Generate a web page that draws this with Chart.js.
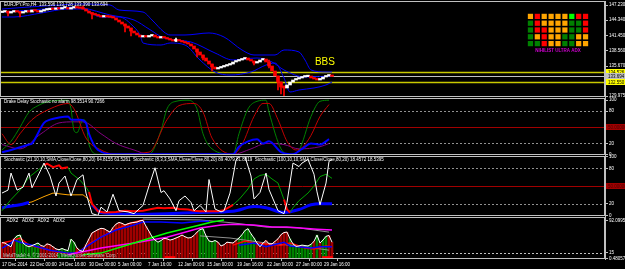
<!DOCTYPE html>
<html>
<head>
<meta charset="utf-8">
<script src="https://cdn.jsdelivr.net/npm/chart.js@4.4.1/dist/chart.umd.min.js"></script>
<style>
  html, body { margin: 0; padding: 0; background: #000; }
  #wrap { position: relative; width: 625px; height: 269px; overflow: hidden; }
  #wrap canvas { position: absolute; left: 0; top: 0; }
</style>
</head>
<body>
<div id="wrap">
  <canvas id="price" width="625" height="269"></canvas>
  <canvas id="drake" width="625" height="269"></canvas>
  <canvas id="stoch" width="625" height="269"></canvas>
  <canvas id="adx" width="625" height="269"></canvas>
  <canvas id="matrix" width="625" height="269"></canvas>
</div>
<script>
/* ---- price data: EURJPY H4, one close per bar ---- */
const firstOpen = 145.80
const closes = [
  145.90, 146.09, 145.71, 145.90, 146.09, 145.90, 145.71, 145.90, 146.09, 145.90,
  146.28, 146.09, 145.90, 146.09, 146.28, 146.35, 146.47, 146.40, 146.66, 146.47,
  146.66, 146.72, 146.47, 146.66, 146.85, 146.66, 146.60, 146.47, 146.09, 145.71,
  145.53, 145.34, 145.15, 144.96, 145.15, 144.96, 144.90, 144.77, 144.39, 144.01,
  143.63, 143.25, 142.87, 142.30, 141.93, 141.55, 141.17, 141.36, 141.17, 141.36,
  141.55, 141.17, 140.98, 141.17, 140.98, 140.79, 140.60, 140.41, 140.60, 140.41,
  140.22, 140.03, 139.84, 139.46, 138.90, 138.33, 137.76, 137.19, 136.62, 136.05,
  135.49, 135.11, 135.30, 135.49, 135.67, 135.86, 136.05, 136.43, 136.62, 136.81,
  137.00, 137.19, 136.81, 136.62, 136.24, 136.43, 136.81, 137.00, 136.43, 135.67,
  134.73, 133.78, 132.64, 131.70, 131.51, 132.08, 132.64, 133.02, 133.21, 133.40,
  133.59, 133.65, 133.78, 133.40, 133.21, 133.02, 133.21, 133.59, 133.78, 133.97,
  133.694
]
// [bar, low, high] for the candles with visible shadows
const wicks = [
  [2, 145.15, 145.95], [6, 144.96, 145.95], [27, 146.47, 147.04], [30, 144.58, 145.71],
  [41, 142.11, 143.63], [43, 141.36, 142.87], [58, 140.30, 140.98], [65, 137.38, 138.90],
  [67, 136.81, 137.76], [70, 134.73, 136.05], [84, 135.86, 136.62], [89, 135.30, 136.81],
  [92, 131.13, 133.78], [93, 130.37, 132.64], [94, 129.99, 131.90]
]
// bollinger bands [bar, price]
const bbUpper = [[0,146.47],[9,146.85],[19,147.23],[25,147.42],[36,147.23],[39,146.28],[47,145.90],[50,144.39],[54,142.11],[56,141.55],[61,141.55],[69,141.93],[74,141.17],[80,138.71],[84,137.76],[91,137.76],[94,138.71],[99,138.33],[101,136.81],[103,134.92],[108,134.54],[110,134.54]]
const bbMiddle = [[0,145.90],[10,146.28],[22,146.85],[27,146.66],[36,145.34],[44,144.39],[49,142.68],[54,140.98],[63,140.22],[71,138.14],[77,136.81],[85,137.19],[90,136.43],[94,134.92],[101,133.59],[110,133.78]]
const bbLower = [[0,144.96],[4,144.96],[13,145.71],[22,146.47],[27,146.47],[33,144.96],[39,144.96],[44,143.06],[46,141.55],[47,140.03],[53,139.65],[56,140.03],[61,139.65],[66,136.81],[71,134.54],[76,133.97],[83,134.54],[88,135.86],[91,136.24],[94,133.40],[96,130.75],[99,131.13],[104,131.51],[108,132.08],[110,132.64]]
const priceTicks = [147.230, 144.340, 141.450, 138.560, 135.670, 129.975]
const levelHigh = 134.526
const levelLast = 133.694
const levelLow = 132.550

/* ---- Drake Delay Stochastic ---- */
const drakeGreen = [[0,8],[3,24],[6,50],[9,78],[12,90],[16,98],[22,100],[23,84],[24,44],[25,40],[27,64],[28,60],[29,18],[32,0],[49,0],[53,44],[55,84],[58,98],[62,100],[65,84],[67,38],[70,10],[77,0],[79,38],[82,84],[85,98],[88,100],[89,78],[93,10],[96,0],[99,8],[103,70],[106,98],[109,100]]
const drakeRed = [[0,38],[3,18],[6,38],[10,64],[16,84],[22,94],[24,84],[28,30],[33,8],[38,0],[49,4],[55,64],[59,90],[64,94],[67,78],[70,30],[77,0],[80,18],[84,70],[87,94],[89,94],[92,64],[95,24],[98,8],[100,12],[103,35],[106,70],[109,92]]
const drakeBlue = [[0,4],[3,8],[9,18],[10,20],[14,58],[16,64],[19,68],[22,70],[23,64],[26,64],[28,58],[29,38],[32,8],[38,0],[77,0],[79,14],[82,24],[85,28],[87,20],[89,24],[93,4],[97,0],[100,10],[103,20],[106,18],[109,28]]
const drakePurple = [[0,18],[6,10],[13,38],[19,58],[24,60],[27,60],[33,38],[38,20],[44,8],[49,0],[77,0],[83,10],[88,20],[94,18],[99,10],[106,14],[109,20]]

/* ---- Stochastics ---- */
const stochWhite = [[0,38],[2,43],[3,72],[5,43],[7,48],[9,72],[10,47],[13,78],[14,89],[16,67],[18,33],[19,55],[21,67],[23,33],[25,61],[27,69],[28,38],[30,3],[32,0],[33,14],[35,6],[37,36],[39,8],[42,6],[44,3],[47,17],[49,50],[51,81],[53,39],[54,42],[56,28],[58,8],[59,25],[61,33],[63,22],[64,8],[66,17],[68,6],[69,61],[71,11],[73,6],[74,8],[76,38],[78,94],[79,100],[81,100],[83,67],[84,28],[86,39],[88,72],[89,44],[92,8],[94,3],[95,22],[97,89],[99,83],[100,89],[102,95],[104,70],[105,40],[106,18],[108,55],[109,92],[110,95]]
const stochGreen = [[0,8],[3,27],[6,43],[9,65],[12,77],[14,85],[15,null],[22,82],[23,72],[26,60],[28,48],[29,40],[30,null],[77,18],[79,27],[82,45],[84,62],[86,68],[88,70],[90,62],[92,55],[94,27],[95,null],[96,5],[97,13],[99,25],[102,38],[104,50],[106,66],[108,70],[110,63]]
const stochRed = [[14,85],[15,88],[17,82],[19,85],[20,80],[22,82],[25,null],[29,40],[30,20],[32,7],[34,5],[38,6],[41,8],[44,7],[47,8],[49,10],[52,13],[54,12],[57,13],[59,11],[62,10],[64,8],[66,7],[69,7],[72,7],[74,9],[77,18],[85,null],[94,27],[95,10],[96,5]]
const stochBlue = [[0,13],[2,15],[6,18],[9,22],[20,null],[30,18],[33,5],[44,2],[55,3],[66,5],[77,7],[84,15],[88,13],[94,5],[99,10],[103,18],[106,20],[110,20]]
const stochOrange = [[9,22],[10,23],[14,32],[17,38],[22,35],[27,35],[29,27],[30,18]]

/* ---- ADX ---- */
const adxHist = [
  39,38,33,29,48,55,57,38,32,29, 32,35,38,32,30,36,34,29,24,22,
  25,22,20,47,40,26,20,18,34,48, 62,66,70,73,72,68,64,75,83,87,
  85,81,84,86,87,88,91,92,78,66, 53,45,40,44,49,48,45,47,50,53,
  57,53,50,51,56,64,70,72,55,43, 41,44,40,31,34,40,39,38,44,50,
  58,68,72,60,50,38,29,38,44,36, 36,42,48,58,63,64,48,36,30,31,
  33,32,31,35,42,57,38,45,54,56, 40
]
const adxBull = [
  0,0,0,0,0,1,1,1,1,1, 1,1,1,0,0,0,0,0,0,1,
  1,1,1,1,1,0,0,0,0,0, 0,0,0,0,0,0,0,0,0,0,
  0,0,0,0,0,0,0,0,0,0, 1,1,1,1,0,0,0,0,0,0,
  0,0,0,0,0,0,1,1,1,1, 1,1,0,0,0,0,0,0,0,1,
  1,1,1,1,1,0,0,0,0,0, 0,0,0,0,0,0,1,1,1,1,
  1,1,1,1,0,1,0,1,1,0, 0
]
const adxBlue = [[0,26],[3,38],[4,45],[6,40],[11,31],[16,21],[22,14],[25,14],[28,29],[33,52],[38,69],[44,81],[47,88],[53,88],[60,86],[66,90],[69,90],[74,null],[79,33],[84,38],[88,29],[94,40],[96,31],[103,26],[106,29],[110,29]]
const adxRed = [[0,38],[3,43],[6,50],[9,33],[13,26],[18,17],[23,12],[26,19],[29,36],[33,52],[38,71],[43,86],[47,93],[60,null],[77,33],[81,43],[84,38],[93,33],[96,38],[101,26],[104,24],[108,31],[110,29]]
const adxLime = [[27,10],[33,14],[44,38],[55,62],[66,81],[70,88],[74,93]]
const adxMagenta = [[22,10],[33,26],[44,38],[55,52],[66,74],[73,81],[77,83],[84,81],[90,76],[95,76],[105,71],[110,69]]
const adxGray1 = [[47,95],[66,93],[77,86],[88,76],[99,74],[109,64]]
const adxGray2 = [[66,55],[76,50],[88,38],[99,31],[109,21]]
const adxAlerts = [56, 108.5]

const timeTicks = [0, 9.3, 19, 29, 38.7, 48.7, 58.7, 68.3, 78.3, 88.3, 98, 107.3]
const timeLabels = ['17 Dec 2014', '22 Dec 00:00', '24 Dec 16:00', '30 Dec 00:00', '5 Jan 00:00', '7 Jan 16:00',
  '12 Jan 00:00', '15 Jan 00:00', '19 Jan 16:00', '22 Jan 00:00', '27 Jan 00:00', '29 Jan 16:00']

/* ---- Nihilist Ultra ADX matrix ---- */
const gridTf = ['M', 'W', 'D', 'H4', 'H', '30', '15', '5', '1']
const gridPeriods = ['7', '21', '42', '86', '144']
const gridStates = [
  ['o','r','o','o','o','o','L','r','r'],
  ['g','r','o','o','o','o','g','g','r'],
  ['g','r','r','o','o','o','g','g','r'],
  ['g','o','r','o','o','g','g','o','o'],
  ['g','g','r','o','o','g','g','o','o']
]

/* ---------------- drawing ---------------- */
const FONT = "'Liberation Sans', Arial, sans-serif"
Chart.defaults.font.family = FONT
Chart.defaults.font.size = 4.5
Chart.defaults.color = '#ffffff'
Chart.defaults.animation = false

const xMin = -0.67, xMax = 201

// horizontal levels, panel frame, titles and value tags
const panelDecor = {
  id: 'panelDecor',
  beforeDatasetsDraw(chart, args, opts) {
    const { ctx, chartArea: a, scales } = chart
    ctx.save()
    for (const l of opts.levels || []) {
      const py = Math.round(scales.y.getPixelForValue(l.value)) + 0.5
      ctx.strokeStyle = l.color
      ctx.lineWidth = l.width || 1
      ctx.setLineDash(l.dash || [])
      ctx.beginPath(); ctx.moveTo(a.left, py); ctx.lineTo(a.right, py); ctx.stroke()
    }
    ctx.restore()
  },
  afterDraw(chart, args, opts) {
    const { ctx, chartArea: a, scales } = chart
    ctx.save()
    if (opts.frame) {
      ctx.strokeStyle = '#c0c0c0'
      ctx.lineWidth = 1
      ctx.strokeRect(a.left + 0.5, a.top + 0.5, a.right - a.left - 1, a.bottom - a.top - 1)
    }
    ctx.font = '4.5px ' + FONT
    if (opts.title) {
      ctx.fillStyle = '#ffffff'; ctx.textBaseline = 'top'
      ctx.fillText(opts.title, a.left + 4, a.top + 2)
    }
    if (opts.footer) {
      ctx.fillStyle = '#c0c0c0'; ctx.textBaseline = 'bottom'
      ctx.fillText(opts.footer, a.left + 3, a.bottom - 1)
    }
    for (const t of opts.tags || []) {
      const py = Math.round(scales.y.getPixelForValue(t.value))
      ctx.fillStyle = t.bg
      ctx.fillRect(a.right + 1, py - 3, 20, 6)
      ctx.fillStyle = t.fg; ctx.textBaseline = 'middle'
      ctx.fillText(t.text, a.right + 3, py + 0.5)
    }
    for (const n of opts.notes || []) {
      ctx.font = n.size + 'px ' + FONT
      ctx.fillStyle = n.color; ctx.textBaseline = 'alphabetic'
      ctx.fillText(n.text, scales.x.getPixelForValue(n.x), scales.y.getPixelForValue(n.y))
    }
    if (opts.caption) {
      ctx.font = 'bold 4.5px ' + FONT
      ctx.fillStyle = opts.caption.color; ctx.textBaseline = 'top'; ctx.textAlign = 'center'
      ctx.fillText(opts.caption.text, (a.left + a.right) / 2, a.bottom + 1.5)
    }
    ctx.restore()
  }
}
Chart.register(panelDecor)

const toPoints = arr => arr.map(p => ({ x: p[0], y: p[1] }))

function line(data, color, width, order, smooth) {
  return {
    type: 'line', data: toPoints(data), borderColor: color, borderWidth: width,
    pointRadius: 0, fill: false, spanGaps: false, order: order,
    tension: smooth ? 0.4 : 0, cubicInterpolationMode: smooth ? 'monotone' : 'default'
  }
}

function valueAxis(min, max, ticks, fmt) {
  return {
    position: 'right', min: min, max: max,
    afterFit(s) { s.width = 20; s.paddingTop = 0; s.paddingBottom = 0 },
    afterBuildTicks(s) { s.ticks = ticks.map(v => ({ value: v })) },
    ticks: { autoSkip: false, padding: 1, color: '#ffffff', callback: fmt },
    grid: { drawOnChartArea: false, tickLength: 3, color: '#c0c0c0' },
    border: { display: true, color: '#c0c0c0' }
  }
}

const hiddenX = { type: 'linear', display: false, min: xMin, max: xMax, offset: false }
const quiet = { legend: { display: false }, tooltip: { enabled: false } }

/* main price window */
const opens = closes.map((c, i) => i === 0 ? firstOpen : closes[i - 1])
const candleColor = i => closes[i] >= opens[i] ? '#ffffff' : '#ff0000'

new Chart(document.getElementById('price'), {
  type: 'bar',
  data: {
    datasets: [
      {
        data: closes.map((c, i) => ({ x: i, y: [opens[i], c] })),
        backgroundColor: ctx => candleColor(ctx.dataIndex),
        barThickness: 3, minBarLength: 1.5, grouped: false, order: 1
      },
      {
        data: wicks.map(w => ({ x: w[0], y: [w[1], w[2]] })),
        backgroundColor: ctx => candleColor(wicks[ctx.dataIndex][0]),
        barThickness: 1, grouped: false, order: 2
      },
      line(bbUpper, '#0000ff', 1, 3, true),
      line(bbMiddle, '#0000ff', 1, 3, true),
      line(bbLower, '#0000ff', 1, 3, true)
    ]
  },
  options: {
    responsive: false,
    layout: { padding: { top: 1, bottom: 172, left: 0, right: 0 } },
    scales: {
      x: hiddenX,
      y: valueAxis(129.80, 147.99, priceTicks, v => v.toFixed(3))
    },
    plugins: Object.assign({}, quiet, {
      panelDecor: {
        frame: true,
        title: 'EURJPY.Pro,H4  133.596 133.728 133.390 133.694',
        levels: [
          { value: levelHigh, color: '#c8c800', width: 1.5 },
          { value: levelLast, color: '#c0c0c0' },
          { value: levelLow, color: '#c8c800', width: 1.5 }
        ],
        tags: [
          { value: levelHigh, text: levelHigh.toFixed(3), bg: '#ffff00', fg: '#000000' },
          { value: levelLast, text: levelLast.toFixed(3), bg: '#c0c0c0', fg: '#000000' },
          { value: levelLow, text: levelLow.toFixed(3), bg: '#ffff00', fg: '#000000' }
        ],
        notes: [{ x: 104.3, y: 135.86, text: 'BBS', color: '#ffff00', size: 10 }]
      }
    })
  }
})

/* oscillator windows */
const oscLevels = [
  { value: 80, color: '#909090', dash: [2, 2] },
  { value: 50, color: '#a00000' },
  { value: 20, color: '#909090', dash: [2, 2] }
]
const oscTag = [{ value: 50, text: '50.00000', bg: '#a00000', fg: '#4a0000' }]

new Chart(document.getElementById('drake'), {
  type: 'line',
  data: {
    datasets: [
      line(drakeBlue, '#0000ff', 2, 1, true),
      line(drakeRed, '#c00000', 1, 2, true),
      line(drakeGreen, '#008000', 1, 3, true),
      line(drakePurple, '#800080', 1, 4, true)
    ]
  },
  options: {
    responsive: false,
    layout: { padding: { top: 98, bottom: 114, left: 0, right: 0 } },
    scales: { x: hiddenX, y: valueAxis(-1.3, 104.1, [100, 80, 20, 0], v => String(v)) },
    plugins: Object.assign({}, quiet, {
      panelDecor: { frame: true, title: 'Drake Delay Stochastic no alarm 98.3514 90.7266', levels: oscLevels, tags: oscTag }
    })
  }
})

new Chart(document.getElementById('stoch'), {
  type: 'line',
  data: {
    datasets: [
      line(stochWhite, '#ffffff', 1, 1, false),
      line(stochRed, '#ff0000', 2, 2, false),
      line(stochGreen, '#00a000', 1, 3, false),
      line(stochOrange, '#ffa500', 1, 4, false),
      line(stochBlue, '#0000ff', 3, 5, true)
    ]
  },
  options: {
    responsive: false,
    layout: { padding: { top: 156, bottom: 53, left: 0, right: 0 } },
    scales: { x: hiddenX, y: valueAxis(-1, 101, [100, 80, 20, 0], v => String(v)) },
    plugins: Object.assign({}, quiet, {
      panelDecor: {
        frame: true,
        title: 'Stochastic (21,10,10,SMA,Close/Close,80,20) 64.8155 63.5261  Stochastic (8,3,3,SMA,Close/Close,80,20) 89.4079 81.8819  Stochastic (100,10,10,SMA,Close/Close,80,20) 18.4572 18.5395',
        levels: oscLevels, tags: oscTag
      }
    })
  }
})

/* ADX window with time axis */
const adxTickLabels = ['92.0995', '15', '0.48057']
new Chart(document.getElementById('adx'), {
  type: 'bar',
  data: {
    datasets: [
      {
        data: adxAlerts.map(b => ({ x: b, y: [0, 6] })),
        backgroundColor: '#ff0000', barThickness: 10, grouped: false, order: 0
      },
      line(adxHist.map((v, i) => [i, v]), '#ffffff', 1, 1, false),
      line(adxLime, '#00ff00', 1.5, 2, false),
      line(adxMagenta, '#ff00ff', 1.5, 3, false),
      line(adxBlue, '#0000ff', 1.5, 4, false),
      line(adxRed, '#ff0000', 1.5, 5, false),
      line(adxGray1, '#909090', 1, 6, false),
      line(adxGray2, '#909090', 1, 7, false),
      {
        data: adxHist.map((v, i) => ({ x: i, y: v })),
        backgroundColor: ctx => adxBull[ctx.dataIndex] ? '#008000' : '#a00000',
        barThickness: 2, grouped: false, order: 8
      }
    ]
  },
  options: {
    responsive: false,
    layout: { padding: { top: 217, bottom: 0, left: 0, right: 0 } },
    scales: {
      x: {
        type: 'linear', min: xMin, max: xMax, offset: false,
        afterFit(s) { s.height = 10; s.paddingLeft = 0; s.paddingRight = 0 },
        afterBuildTicks(s) { s.ticks = timeTicks.map(v => ({ value: v })) },
        ticks: { autoSkip: false, maxRotation: 0, minRotation: 0, align: 'start', padding: 1, color: '#ffffff',
          callback: (v, i) => timeLabels[i] },
        grid: { drawOnChartArea: false, tickLength: 2, color: '#c0c0c0' },
        border: { display: false }
      },
      y: valueAxis(0, 100, [92.0995, 15, 0.48057], (v, i) => adxTickLabels[i])
    },
    plugins: Object.assign({}, quiet, {
      panelDecor: {
        frame: true,
        title: '  ADX2   ADX2   ADX2   ADX2',
        footer: 'MetaTrader 4, \u00a9 2001-2014, MetaQuotes Software Corp.',
        levels: [{ value: 15, color: '#c0c0c0', dash: [2, 2] }]
      }
    })
  }
})

/* matrix panel */
const stateColors = { o: '#ffa500', r: '#ff0000', g: '#008000', L: '#00ff00' }
const cells = []
const cellColors = []
gridStates.forEach((row, r) => row.forEach((s, c) => {
  cells.push({ x: c, y: r })
  cellColors.push(stateColors[s])
}))

new Chart(document.getElementById('matrix'), {
  type: 'scatter',
  data: {
    datasets: [{
      data: cells, backgroundColor: cellColors, pointStyle: 'rect',
      pointRadius: 3.7, pointBorderWidth: 0, borderWidth: 0
    }]
  },
  options: {
    responsive: false,
    layout: { padding: { top: 8, bottom: 222, left: 527, right: 26 } },
    scales: {
      x: {
        type: 'linear', position: 'top', min: -0.5, max: 8.5,
        afterFit(s) { s.height = 5; s.paddingLeft = 0; s.paddingRight = 0 },
        afterBuildTicks(s) { s.ticks = gridTf.map((t, i) => ({ value: i })) },
        ticks: { autoSkip: false, maxRotation: 0, padding: 0, color: '#e0a000', font: { size: 4 }, callback: (v, i) => gridTf[i] },
        grid: { display: false }, border: { display: false }
      },
      y: {
        position: 'right', min: -0.5, max: 4.5, reverse: true,
        afterFit(s) { s.width = 10; s.paddingTop = 0; s.paddingBottom = 0 },
        afterBuildTicks(s) { s.ticks = gridPeriods.map((t, i) => ({ value: i })) },
        ticks: { autoSkip: false, padding: 2, color: '#e0a000', font: { size: 4 }, callback: (v, i) => gridPeriods[i] },
        grid: { display: false }, border: { display: false }
      }
    },
    plugins: Object.assign({}, quiet, {
      panelDecor: { frame: false, caption: { text: 'NIHILIST ULTRA ADX', color: '#d000d0' } }
    })
  }
})
</script>
</body>
</html>
